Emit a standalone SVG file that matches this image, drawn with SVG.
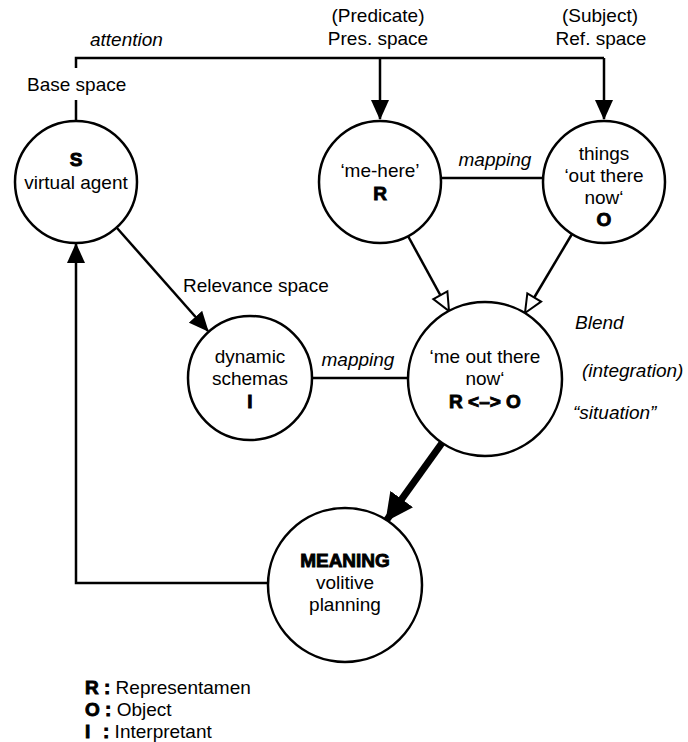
<svg xmlns="http://www.w3.org/2000/svg" width="688" height="742" viewBox="0 0 688 742">
<style>
text{font-family:"Liberation Sans",Arial,Helvetica,sans-serif;font-size:19px;fill:#000}
.c{text-anchor:middle}
.i{font-style:italic}
.b{font-weight:bold;stroke:#000;stroke-width:0.9}
.node circle{fill:#fff;stroke:#000;stroke-width:2.5}
.ln{fill:none;stroke:#000;stroke-width:2.5}
</style>
<defs>
<marker id="ah" markerUnits="userSpaceOnUse" markerWidth="20" markerHeight="18" refX="19" refY="9" orient="auto"><path d="M0,0 L20,9 L0,18 z" fill="#000"/></marker>
<marker id="oh" markerUnits="userSpaceOnUse" markerWidth="22" markerHeight="20" refX="20" refY="10" orient="auto"><path d="M2,2 L20,10 L2,18 z" fill="#fff" stroke="#000" stroke-width="2"/></marker>
<marker id="bh" markerUnits="userSpaceOnUse" markerWidth="28" markerHeight="28" refX="27" refY="14" orient="auto"><path d="M0,0 L28,14 L0,28 z" fill="#000"/></marker>
</defs>
<g id="connectors">
<path class="ln" d="M76,120 V100 M76,68 V58 H604"/>
<path class="ln" d="M604,58 V119" marker-end="url(#ah)"/>
<path class="ln" d="M380,58 V119" marker-end="url(#ah)"/>
<path class="ln" d="M430,178 H553"/>
<path class="ln" d="M302,378 H417"/>
<path class="ln" d="M117,228 L208,331" marker-end="url(#ah)"/>
<path class="ln" d="M268,583 H76 V244" marker-end="url(#ah)"/>
<path class="ln" d="M408,236 L449,311" marker-end="url(#oh)"/>
<path class="ln" d="M572,234 L525,313" marker-end="url(#oh)"/>
<path fill="none" stroke="#000" stroke-width="7" d="M442,443 L386,521" marker-end="url(#bh)"/>
</g>
<g id="labels">
<text x="90" y="46" class="i">attention</text>
<text x="27" y="91">Base space</text>
<text x="378" y="22" class="c">(Predicate)</text>
<text x="378" y="45" class="c">Pres. space</text>
<text x="600" y="22" class="c">(Subject)</text>
<text x="601" y="45" class="c">Ref. space</text>
<text x="495" y="166" class="c i">mapping</text>
<text x="358" y="366" class="c i">mapping</text>
<text x="183" y="292">Relevance space</text>
<text x="575" y="329" class="i">Blend</text>
<text x="582" y="377" class="i">(integration)</text>
<text x="573" y="419" class="i">“situation”</text>
</g>
<g id="node-S" class="node">
<circle cx="76" cy="182" r="61"/>
<text x="76" y="166" class="c b">S</text>
<text x="76" y="189" class="c">virtual agent</text>
</g>
<g id="node-R" class="node">
<circle cx="380" cy="182" r="61"/>
<text x="380" y="177" class="c">‘me-here’</text>
<text x="380" y="200" class="c b">R</text>
</g>
<g id="node-O" class="node">
<circle cx="604" cy="182" r="61"/>
<text x="604" y="160" class="c">things</text>
<text x="604" y="182" class="c">‘out there</text>
<text x="604" y="204" class="c">now‘</text>
<text x="604" y="226" class="c b">O</text>
</g>
<g id="node-I" class="node">
<circle cx="250" cy="378" r="62"/>
<text x="250" y="363" class="c">dynamic</text>
<text x="250" y="385" class="c">schemas</text>
<text x="250" y="408" class="c b">I</text>
</g>
<g id="node-blend" class="node">
<circle cx="485" cy="379" r="77"/>
<text x="485" y="363" class="c">‘me out there</text>
<text x="485" y="385" class="c">now‘</text>
<text x="485" y="408" class="c b">R &lt;–&gt; O</text>
</g>
<g id="node-meaning" class="node">
<circle cx="345" cy="585" r="77"/>
<text x="345" y="567" class="c b">MEANING</text>
<text x="345" y="589" class="c">volitive</text>
<text x="345" y="611" class="c">planning</text>
</g>
<g id="legend">
<text x="85" y="694"><tspan class="b">R :</tspan> Representamen</text>
<text x="85" y="716"><tspan class="b">O :</tspan> Object</text>
<text x="85" y="738"><tspan class="b">I</tspan><tspan class="b" x="103">:</tspan> Interpretant</text>
</g>
</svg>
